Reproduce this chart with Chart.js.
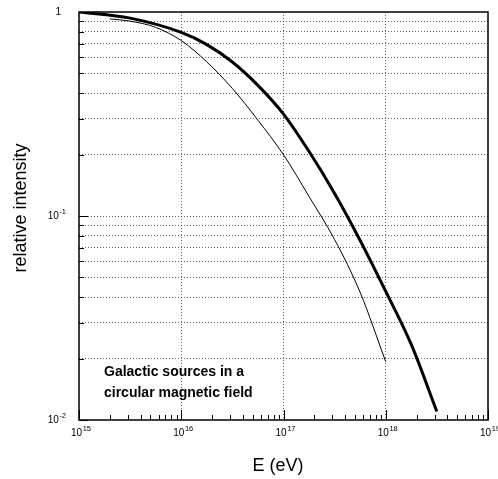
<!DOCTYPE html>
<html>
<head>
<meta charset="utf-8">
<script src="https://cdn.jsdelivr.net/npm/chart.js@4/dist/chart.umd.min.js"></script>
<style>
html, body { margin: 0; padding: 0; background: #fff; }
canvas { display: block; }
</style>
</head>
<body>
<canvas id="chart" width="498" height="479"></canvas>
<script>
// --- data (energy in eV, relative intensity) ---
const thickEnergy = [1e15, 3.16e15, 1e16, 1.78e16, 3.16e16, 5.62e16, 1e17, 1.78e17, 3.16e17, 5.62e17, 1e18, 1.78e18, 3.16e18];
const thickIntensity = [1.0, 0.933, 0.794, 0.692, 0.569, 0.437, 0.316, 0.207, 0.129, 0.0759, 0.0427, 0.0234, 0.011];
const thinEnergy = [2.0e15, 3.16e15, 5.62e15, 1e16, 1.78e16, 3.16e16, 5.62e16, 1e17, 1.78e17, 3.16e17, 5.62e17, 1e18];
const thinIntensity = [0.925, 0.902, 0.841, 0.724, 0.569, 0.422, 0.295, 0.1995, 0.1245, 0.0767, 0.0422, 0.0193];

// tick labels: exponents of the decades on each axis
const xExponents = [15, 16, 17, 18, 19];
const yExponents = [-2, -1, 0];
const annotationLines = ['Galactic sources in a', 'circular magnetic field'];

const xMin = 1e15, xMax = 1e19;
const yMin = 1e-2, yMax = 1;

const toPoints = (xs, ys) => xs.map((v, i) => ({ x: v, y: ys[i] }));

function decadeTicks(exps, withMinor) {
    const out = [];
    for (let i = 0; i < exps.length; i++) {
        const base = Math.pow(10, exps[i]);
        out.push(base);
        if (withMinor && i < exps.length - 1) {
            for (let m = 2; m <= 9; m++) out.push(m * base);
        }
    }
    return out;
}

const isDecade = v => Math.abs(Math.log10(v) - Math.round(Math.log10(v))) < 1e-6;

// "10" with a raised exponent
function drawPower(ctx, exp, x, y, align) {
    const baseFont = '10px "Liberation Sans", Arial, sans-serif';
    const supFont = '7.5px "Liberation Sans", Arial, sans-serif';
    ctx.font = baseFont;
    const wb = ctx.measureText('10').width;
    ctx.font = supFont;
    const ws = ctx.measureText(String(exp)).width;
    const total = wb + ws + 0.5;
    let left = x;
    if (align === 'center') left = x - total / 2;
    if (align === 'right') left = x - total;
    ctx.textAlign = 'left';
    ctx.textBaseline = 'middle';
    ctx.font = baseFont;
    ctx.fillText('10', left, y);
    ctx.font = supFont;
    ctx.fillText(String(exp), left + wb + 0.5, y - 4.5);
}

const framePlugin = {
    id: 'frame',
    afterDraw(chart) {
        const { ctx, chartArea: a } = chart;
        const xs = chart.scales.x, ys = chart.scales.y;
        ctx.save();

        // axis tick marks
        ctx.strokeStyle = '#000';
        ctx.lineWidth = 1;
        ctx.setLineDash([]);
        ctx.beginPath();
        decadeTicks(xExponents, true).forEach(v => {
            const px = Math.round(xs.getPixelForValue(v)) + 0.5;
            const len = isDecade(v) ? 10 : 5;
            ctx.moveTo(px, a.bottom);
            ctx.lineTo(px, a.bottom - len);
        });
        decadeTicks(yExponents, true).forEach(v => {
            const py = Math.round(ys.getPixelForValue(v)) + 0.5;
            const len = isDecade(v) ? 9 : 5;
            ctx.moveTo(a.left, py);
            ctx.lineTo(a.left + len, py);
        });
        ctx.stroke();

        // frame
        ctx.lineWidth = 1.5;
        ctx.strokeRect(a.left, a.top, a.right - a.left, a.bottom - a.top);

        // tick labels
        ctx.fillStyle = '#000';
        xExponents.forEach(e => {
            drawPower(ctx, e, xs.getPixelForValue(Math.pow(10, e)) + 2, a.bottom + 13.5, 'center');
        });
        yExponents.forEach(e => {
            const py = ys.getPixelForValue(Math.pow(10, e));
            if (e === 0) {
                ctx.font = '10px "Liberation Sans", Arial, sans-serif';
                ctx.textAlign = 'right';
                ctx.textBaseline = 'middle';
                ctx.fillText('1', 61, py + 0.5);
            } else {
                drawPower(ctx, e, 66, py + 0.5, 'right');
            }
        });

        // axis titles
        ctx.font = '18px "Liberation Sans", Arial, sans-serif';
        ctx.textAlign = 'center';
        ctx.textBaseline = 'middle';
        ctx.fillText('E (eV)', 278, 466);
        ctx.save();
        ctx.translate(21, 208);
        ctx.rotate(-Math.PI / 2);
        ctx.fillText('relative intensity', 0, 0);
        ctx.restore();

        // annotation
        ctx.font = 'bold 14px "Liberation Sans", Arial, sans-serif';
        ctx.textAlign = 'left';
        ctx.textBaseline = 'alphabetic';
        annotationLines.forEach((t, i) => ctx.fillText(t, 104, 376 + i * 21));

        ctx.restore();
    }
};

const gridColor = 'rgba(0,0,0,0.6)';

const ctx = document.getElementById('chart').getContext('2d');
const chart = new Chart(ctx, {
    type: 'line',
    data: {
        datasets: [
            {
                label: 'thick',
                data: toPoints(thickEnergy, thickIntensity),
                borderColor: '#000',
                borderWidth: 3,
                pointRadius: 0,
                cubicInterpolationMode: 'monotone',
                fill: false
            },
            {
                label: 'thin',
                data: toPoints(thinEnergy, thinIntensity),
                borderColor: '#000',
                borderWidth: 1,
                pointRadius: 0,
                cubicInterpolationMode: 'monotone',
                fill: false
            }
        ]
    },
    options: {
        responsive: false,
        animation: false,
        devicePixelRatio: 1,
        layout: { padding: { left: 0, right: 10, top: 12, bottom: 0 } },
        plugins: {
            legend: { display: false },
            tooltip: { enabled: false }
        },
        scales: {
            x: {
                type: 'logarithmic',
                min: xMin,
                max: xMax,
                afterBuildTicks: s => { s.ticks = decadeTicks(xExponents, false).map(v => ({ value: v })); },
                afterFit: s => { s.height = 59; },
                ticks: { display: false },
                border: { display: false, dash: [1, 2] },
                grid: {
                    drawTicks: false,
                    lineWidth: 1,
                    color: c => (c.tick && c.tick.value > xMin && c.tick.value < xMax) ? gridColor : 'rgba(0,0,0,0)'
                }
            },
            y: {
                type: 'logarithmic',
                min: yMin,
                max: yMax,
                afterBuildTicks: s => { s.ticks = decadeTicks(yExponents, true).map(v => ({ value: v })); },
                afterFit: s => { s.width = 79; },
                ticks: { display: false },
                border: { display: false, dash: [1, 2] },
                grid: {
                    drawTicks: false,
                    lineWidth: 1,
                    color: c => (c.tick && c.tick.value > yMin && c.tick.value < yMax) ? gridColor : 'rgba(0,0,0,0)'
                }
            }
        }
    },
    plugins: [framePlugin]
});
</script>
</body>
</html>
